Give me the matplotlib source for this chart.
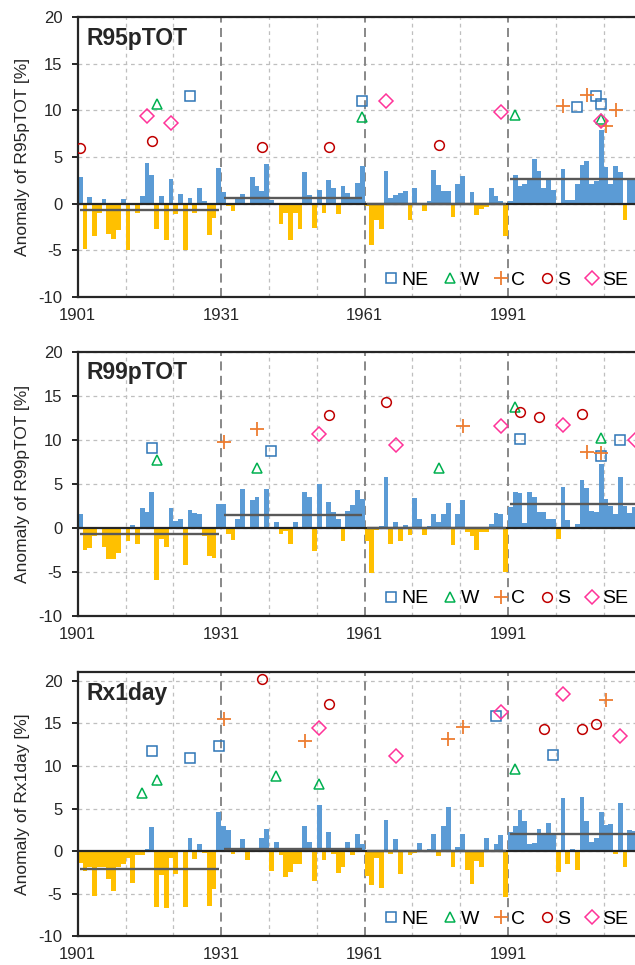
import numpy as np
import matplotlib
matplotlib.use("Agg")
import matplotlib.pyplot as plt

plt.rcParams["font.family"] = ["Liberation Sans", "DejaVu Sans"]
plt.rcParams["axes.unicode_minus"] = False

years = np.arange(1901, 2018)

# anomalies [%], 1901-2017
r95ptot = [
    2.9, -4.9, 0.7, -3.5, -1.0, 0.5, -3.3, -3.8, -2.8, 0.5,
    -5.0, 0.0, -1.0, 0.8, 4.4, 3.1, -2.7, 0.8, -3.9, 2.6,
    -1.1, 1.0, -5.0, 0.6, -1.0, 1.7, 0.3, -3.4, -1.6, 3.8,
    1.2, -0.3, -0.8, 0.75, 1.0, 0.1, 2.9, 1.9, 1.3, 4.2,
    0.4, 0.0, -2.2, -1.0, -3.9, -1.0, -2.7, 3.4, 0.9, -2.6,
    1.5, -1.0, 2.5, 1.7, -1.1, 1.9, 1.1, 0.7, 2.2, 4.0,
    -0.3, -4.4, -1.8, -2.7, 3.5, 0.6, 0.9, 1.1, 1.4, -1.8,
    1.7, -0.2, -0.8, 0.3, 3.6, 2.0, 1.3, 1.3, -1.4, 2.1,
    3.0, 0.0, 1.25, -1.25, -0.6, -0.4, 1.7, 0.8, 0.25, -3.5,
    0.3, 3.1, 1.9, 2.1, 2.5, 4.8, 3.5, 1.7, 2.5, 1.5,
    0.1, 3.75, 0.35, 0.4, 2.1, 4.1, 4.6, 2.1, 2.4, 7.9,
    3.9, 2.1, 4.0, 3.4, -1.8, 2.7, 2.5,
]
r99ptot = [
    1.6, -2.5, -2.3, -1.0, 0.0, -2.2, -3.6, -3.6, -2.9, 0.0,
    -1.5, 0.3, -1.9, 2.2, 1.8, 4.1, -5.9, -1.3, -2.2, 2.2,
    0.75, 0.95, -4.2, 2.0, 1.7, 1.55, -1.0, -3.2, -3.5, 2.7,
    2.65, -0.75, -1.4, 0.95, 4.4, 0.0, 3.1, 3.45, 0.0, 4.4,
    -0.2, 0.6, -0.7, -0.4, -1.8, 0.6, -0.2, 4.1, 3.5, -2.6,
    5.0, 0.0, 2.9, 1.8, 1.0, -1.5, 1.85, 2.6, 4.3, 3.2,
    -1.5, -5.1, -0.3, 0.2, 5.7, -1.8, 0.6, -1.5, 0.3, -0.8,
    3.4, 1.0, -0.8, 0.2, 1.6, 0.64, 1.6, 2.8, -2.0, 1.5,
    3.1, -0.45, -1.0, -2.5, -0.45, -0.45, 0.4, 1.7, 1.5, -5.0,
    2.4, 4.05, 3.9, 0.57, 4.05, 3.45, 1.8, 1.8, 1.0, 1.0,
    -1.3, 4.6, 0.9, 0.1, 0.4, 5.4, 4.5, 1.9, 1.8, 7.2,
    3.2, 2.5, 1.5, 5.8, 2.5, 1.7, 2.3,
]
rx1day = [
    -1.4, -2.3, -1.9, -5.3, -1.9, -1.9, -3.3, -4.7, -1.8, -1.5,
    -0.8, -3.7, -0.5, -0.5, 0.2, 2.8, -6.6, -2.8, -6.7, -0.8,
    -2.7, 0.0, -6.5, 1.5, -0.9, 0.9, -0.2, -6.4, -4.5, 4.6,
    3.0, 2.5, -0.35, 0.0, 1.45, -1.05, 0.4, 0.0, 1.6, 2.65,
    -2.3, 1.05, -0.5, -3.0, -2.5, -1.45, -1.45, 2.9, 1.05, -3.5,
    5.4, -1.0, 2.2, -0.3, -2.6, -1.8, 1.1, -0.45, 2.05, 0.9,
    -2.9, -4.0, -0.8, -4.3, 3.7, -0.35, 1.45, -2.7, 0.1, -0.45,
    -0.2, 1.0, -0.1, 0.3, 2.05, -0.6, 3.0, 5.15, -1.9, 0.5,
    2.05, -2.2, -3.9, -1.1, -1.8, 1.6, 0.0, 0.8, 1.9, -5.35,
    2.2, 2.9, 4.8, 3.5, 0.9, 1.0, 2.6, 2.15, 3.25, 1.85,
    -2.5, 6.3, -1.45, 0.2, -2.2, 6.4, 3.6, 1.1, 1.6, 4.65,
    3.1, 3.15, -0.3, 5.7, -1.9, 2.5, 2.4,
]

# 30-year period means
periods = [(1901, 1930), (1931, 1960), (1961, 1990), (1991, 2017)]
means_r95 = [-0.7, 0.6, 0.0, 2.6]
means_r99 = [-0.7, 1.4, 0.0, 2.7]
means_rx1 = [-2.1, 0.2, 0.0, 2.0]

# regional extremes (year, value)
r95_ne = ([1924, 1960, 2005, 2009, 2010], [11.6, 11.0, 10.35, 11.5, 10.7])
r95_w = ([1917, 1960, 1992, 2010], [10.7, 9.3, 9.5, 9.1])
r95_c = ([2002, 2007, 2011, 2013], [10.5, 11.7, 8.3, 10.0])
r95_s = ([1901, 1916, 1939, 1953, 1976], [6.0, 6.7, 6.1, 6.1, 6.3])
r95_se = ([1915, 1920, 1965, 1989, 2010], [9.4, 8.7, 11.0, 9.8, 8.9])

r99_ne = ([1916, 1941, 1993, 2010, 2014], [9.0, 8.7, 10.1, 8.15, 10.0])
r99_w = ([1917, 1938, 1976, 1992, 2010], [7.7, 6.75, 6.75, 13.7, 10.2])
r99_c = ([1931, 1938, 1981, 2007, 2010], [9.7, 11.2, 11.6, 8.6, 8.45])
r99_s = ([1953, 1965, 1993, 1997, 2006], [12.8, 14.3, 13.1, 12.6, 12.95])
r99_se = ([1951, 1967, 1989, 2002, 2017], [10.6, 9.4, 11.55, 11.7, 10.0])

rx1_ne = ([1916, 1924, 1930, 1988, 2000], [11.8, 10.9, 12.3, 15.9, 11.25])
rx1_w = ([1914, 1917, 1942, 1951, 1992], [6.85, 8.4, 8.8, 7.85, 9.6])
rx1_c = ([1931, 1948, 1978, 1981, 2011], [15.55, 12.9, 13.2, 14.6, 17.8])
rx1_s = ([1939, 1953, 1998, 2006, 2009], [20.25, 17.3, 14.4, 14.4, 14.9])
rx1_se = ([1951, 1967, 1989, 2002, 2014], [14.5, 11.2, 16.3, 18.4, 13.5])

region_names = ["NE", "W", "C", "S", "SE"]

panels = [
    ("R95pTOT", r95ptot, means_r95, [r95_ne, r95_w, r95_c, r95_s, r95_se], (-10, 20)),
    ("R99pTOT", r99ptot, means_r99, [r99_ne, r99_w, r99_c, r99_s, r99_se], (-10, 20)),
    ("Rx1day", rx1day, means_rx1, [rx1_ne, rx1_w, rx1_c, rx1_s, rx1_se], (-10, 21)),
]

styles = [
    dict(marker="s", ms=6.8, mfc="none", mec="#2E75B6", mew=1.1),
    dict(marker="^", ms=7.5, mfc="none", mec="#00B050", mew=1.1),
    dict(marker="+", ms=10, mec="#ED7D31", mew=1.3),
    dict(marker="o", ms=7, mfc="none", mec="#C00000", mew=1.1),
    dict(marker="D", ms=6.8, mfc="none", mec="#FF3399", mew=1.1),
]

fig = plt.figure(figsize=(6.35, 9.65), dpi=100)
positions = [
    [0.1224, 0.6926, 0.8808, 0.2894],
    [0.1224, 0.3620, 0.8808, 0.2736],
    [0.1224, 0.0297, 0.8808, 0.2736],
]

for pos, (name, vals, means, regions, ylim) in zip(positions, panels):
    ax = fig.add_axes(pos)
    vals = np.array(vals)
    colors = np.where(vals >= 0, "#5B9BD5", "#FFC000")
    ax.bar(years, vals, width=1.0, align="edge", color=colors, linewidth=0, zorder=2)

    ax.set_xlim(1901, 2018)
    ax.set_ylim(*ylim)

    # grid
    for y in range(-5, ylim[1] + 1, 5):
        ax.axhline(y, color="#BFBFBF", lw=0.9, ls=(0, (3, 3)), zorder=1)
    for x in range(1911, 2018, 10):
        if x in (1931, 1961, 1991):
            ax.axvline(x, color="#7F7F7F", lw=1.3, ls=(0, (5, 3)), zorder=1)
        else:
            ax.axvline(x, color="#BFBFBF", lw=0.9, ls=(0, (3, 3)), zorder=1)

    ax.axhline(0, color="#262626", lw=1.6, zorder=3)

    for (y0, y1), m in zip(periods, means):
        ax.plot([y0 + 0.5, y1 + 0.5], [m, m], color="#595959", lw=1.7, zorder=4,
                solid_capstyle="butt")

    for (xs, ys), nm, st in zip(regions, region_names, styles):
        ax.plot(np.array(xs) + 0.5, ys, ls="none", label=nm, zorder=5, **st)

    ax.set_yticks(range(-10, 21, 5))
    ax.set_xticks([1901, 1931, 1961, 1991])
    ax.tick_params(axis="x", length=0, pad=8, labelsize=12, colors="#262626")
    ax.tick_params(axis="y", length=4, width=1.4, pad=7, labelsize=12,
                   direction="out", colors="#262626")
    for side in ("left", "top", "bottom"):
        ax.spines[side].set_linewidth(1.6)
        ax.spines[side].set_color("#262626")
    ax.spines["right"].set_visible(False)

    ax.set_ylabel("Anomaly of " + name + " [%]", fontsize=12.5, color="#262626")
    ax.yaxis.set_label_coords(-0.085, 0.5)

    ax.text(0.016, 0.965, name, transform=ax.transAxes, fontsize=16.5,
            fontweight="bold", va="top", ha="left", color="#262626", zorder=6)

    ax.legend(ncol=5, loc="lower right", bbox_to_anchor=(1.009, -0.02),
              frameon=False, handlelength=0.7, handletextpad=0.2,
              columnspacing=0.75, fontsize=14, borderaxespad=0.3)

fig.savefig("out.png", dpi=100)
